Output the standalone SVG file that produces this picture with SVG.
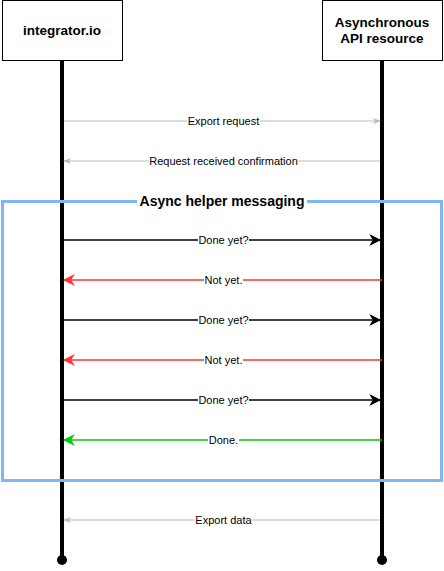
<svg xmlns="http://www.w3.org/2000/svg" width="444" height="571" viewBox="0 0 444 571">
<style>
.box{fill:#fff;stroke:#000;stroke-width:1}
.head{font-family:"Liberation Sans",Arial,sans-serif;font-size:13.5px;font-weight:bold;text-anchor:middle;fill:#000}
.title{font-family:"Liberation Sans",Arial,sans-serif;font-size:14px;font-weight:bold;text-anchor:middle;fill:#000}
.life{stroke:#000;stroke-width:4}
.lbl{font-family:"Liberation Sans",Arial,sans-serif;font-size:11px;text-anchor:middle;fill:#000}
.bg{fill:#fff}
</style>
<defs>
<marker id="ag" viewBox="0 0 10 10" refX="9" refY="5" markerWidth="8" markerHeight="8" markerUnits="userSpaceOnUse" orient="auto"><path d="M0,1 L10,5 L0,9 L3,5 Z" fill="#bbb"/></marker>
<marker id="ab" viewBox="0 0 10 10" refX="9" refY="5" markerWidth="12" markerHeight="12" markerUnits="userSpaceOnUse" orient="auto"><path d="M0,0 L10,5 L0,10 L3,5 Z" fill="#000"/></marker>
<marker id="ar" viewBox="0 0 10 10" refX="9" refY="5" markerWidth="12" markerHeight="12" markerUnits="userSpaceOnUse" orient="auto"><path d="M0,0 L10,5 L0,10 L3,5 Z" fill="#ff3333"/></marker>
<marker id="agr" viewBox="0 0 10 10" refX="9" refY="5" markerWidth="12" markerHeight="12" markerUnits="userSpaceOnUse" orient="auto"><path d="M0,0 L10,5 L0,10 L3,5 Z" fill="#00cc00"/></marker>
</defs>
<g id="lifelines">
<line class="life" x1="62" y1="60" x2="62" y2="560"/>
<line class="life" x1="382" y1="60" x2="382" y2="560"/>
<circle cx="62" cy="560" r="5" fill="#000"/>
<circle cx="382" cy="560" r="5" fill="#000"/>
</g>
<g id="integrator">
<rect class="box" x="2.5" y="0.5" width="120" height="60"/>
<text class="head" x="62" y="35">integrator.io</text>
</g>
<g id="api">
<rect class="box" x="322.5" y="0.5" width="120" height="60"/>
<text class="head" x="382" y="27">Asynchronous</text>
<text class="head" x="382" y="43">API resource</text>
</g>
<g id="async-frame">
<rect x="2.5" y="201.5" width="439" height="279" fill="none" stroke="#7eb6f7" stroke-width="3"/>
<rect class="bg" x="137" y="193" width="170" height="16"/>
<text class="title" x="222" y="206">Async helper messaging</text>
</g>
<g id="connectors">
<line x1="64" y1="121" x2="380" y2="121" stroke="#bbb" stroke-width="1" marker-end="url(#ag)"/>
<line x1="380" y1="161" x2="64" y2="161" stroke="#bbb" stroke-width="1" marker-end="url(#ag)"/>
<line x1="64" y1="240" x2="380" y2="240" stroke="#000" stroke-width="1.5" marker-end="url(#ab)"/>
<line x1="382" y1="280" x2="64" y2="280" stroke="#ff3333" stroke-width="1.5" marker-end="url(#ar)"/>
<line x1="64" y1="320" x2="380" y2="320" stroke="#000" stroke-width="1.5" marker-end="url(#ab)"/>
<line x1="382" y1="360" x2="64" y2="360" stroke="#ff3333" stroke-width="1.5" marker-end="url(#ar)"/>
<line x1="64" y1="400" x2="380" y2="400" stroke="#000" stroke-width="1.5" marker-end="url(#ab)"/>
<line x1="382" y1="440" x2="64" y2="440" stroke="#00cc00" stroke-width="1.5" marker-end="url(#agr)"/>
<line x1="380" y1="520" x2="64" y2="520" stroke="#bbb" stroke-width="1" marker-end="url(#ag)"/>
<rect class="bg" x="187" y="115" width="73" height="12"/>
<text class="lbl" x="223.5" y="125">Export request</text>
<rect class="bg" x="149" y="155" width="149" height="12"/>
<text class="lbl" x="223.5" y="165">Request received confirmation</text>
<rect class="bg" x="198" y="234" width="51" height="12"/>
<text class="lbl" x="223.5" y="244">Done yet?</text>
<rect class="bg" x="204" y="274" width="39" height="12"/>
<text class="lbl" x="223.5" y="284">Not yet.</text>
<rect class="bg" x="198" y="314" width="51" height="12"/>
<text class="lbl" x="223.5" y="324">Done yet?</text>
<rect class="bg" x="204" y="354" width="39" height="12"/>
<text class="lbl" x="223.5" y="364">Not yet.</text>
<rect class="bg" x="198" y="394" width="51" height="12"/>
<text class="lbl" x="223.5" y="404">Done yet?</text>
<rect class="bg" x="208" y="434" width="31" height="12"/>
<text class="lbl" x="223.5" y="444">Done.</text>
<rect class="bg" x="195" y="514" width="57" height="12"/>
<text class="lbl" x="223.5" y="524">Export data</text>
</g>
</svg>
